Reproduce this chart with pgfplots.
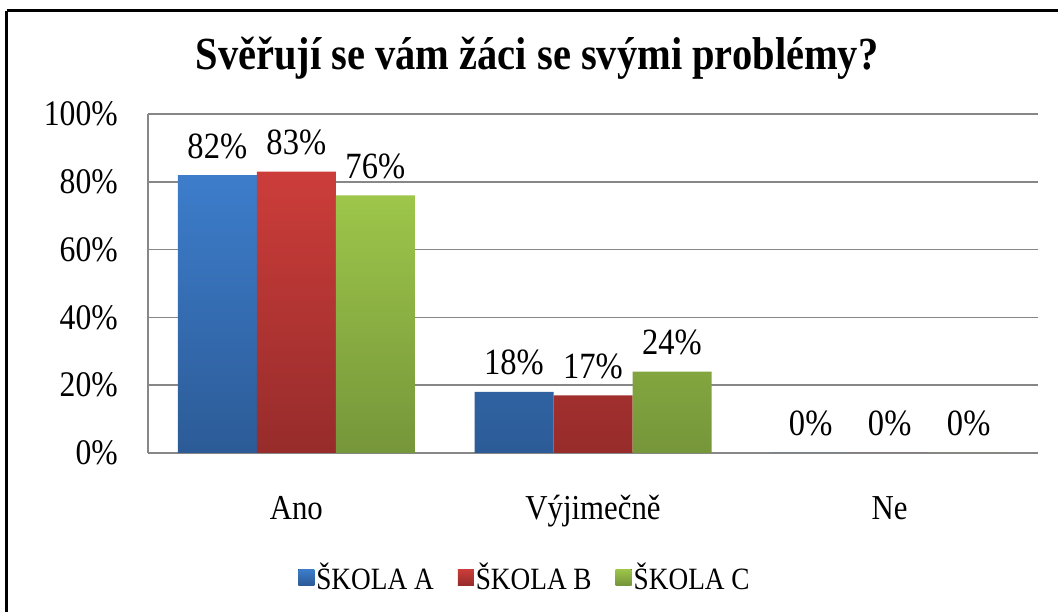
\documentclass[border=0pt]{standalone}
\usepackage{pgfplots}
\pgfplotsset{compat=1.18}
\usepackage{fontspec}
\setmainfont{Liberation Serif}[FakeStretch=0.88]
\definecolor{gridc}{HTML}{878787}
\definecolor{bluet}{HTML}{3D7DCB}
\definecolor{blueb}{HTML}{2C5B97}
\definecolor{redt}{HTML}{CC3D3A}
\definecolor{redb}{HTML}{962C2B}
\definecolor{greent}{HTML}{9DC64A}
\definecolor{greenb}{HTML}{76963A}
\begin{document}
\begin{tikzpicture}[x=1pt,y=1pt]
\useasboundingbox (0,0) rectangle (1058,612);
\fill[white] (0,0) rectangle (1058,612);
\draw[line width=3pt] (6.5,601) -- (1100,601);
\draw[line width=3pt] (6.5,601) -- (6.5,-20);
\node[anchor=base, font=\bfseries\fontsize{46}{50}\selectfont] at (537,542) {Svěřují se vám žáci se svými problémy?};
\begin{axis}[
  at={(148pt,159pt)}, anchor=south west,
  width=890pt, height=339pt, scale only axis,
  /pgf/number format/assume math mode=true,
  xmin=-0.5, xmax=2.5, ymin=0, ymax=100,
  xtick={0,1,2}, xticklabels={Ano,Výjimečně,Ne},
  ytick={0,20,40,60,80,100},
  yticklabel={\pgfmathprintnumber{\tick}\%},
  axis x line*=bottom, axis y line*=left,
  axis line style={gridc, line width=1.5pt, -},
  ymajorgrids, grid style={gridc, line width=1.5pt},
  major tick length=0pt,
  tick style={draw=none},
  xticklabel style={anchor=base, yshift=-67pt, font=\fontsize{35}{40}\selectfont},
  yticklabel style={anchor=east, inner sep=0pt, xshift=-30pt, font=\fontsize{36}{40}\selectfont},
  ybar=0pt, bar width=79pt,
  nodes near coords={\pgfmathprintnumber{\pgfplotspointmeta}\%},
  every node near coord/.append style={anchor=base, yshift=17pt, font=\fontsize{37}{40}\selectfont, black},
  legend columns=3,
  legend style={at={(0.4236,-0.3658)}, anchor=center, draw=none, fill=none,
    font=\fontsize{31}{34}\selectfont,
    /tikz/every even column/.append style={column sep=22pt}},
  legend image code/.code={\fill[#1] (0pt,-8pt) rectangle (16pt,8pt);},
]
\addplot[draw=none, top color=bluet, bottom color=blueb] coordinates {(0,82) (1,18) (2,0)};
\addplot[draw=none, top color=redt, bottom color=redb] coordinates {(0,83) (1,17) (2,0)};
\addplot[draw=none, top color=greent, bottom color=greenb] coordinates {(0,76) (1,24) (2,0)};
\legend{ŠKOLA A, ŠKOLA B, ŠKOLA C}
\end{axis}
\end{tikzpicture}
\end{document}
